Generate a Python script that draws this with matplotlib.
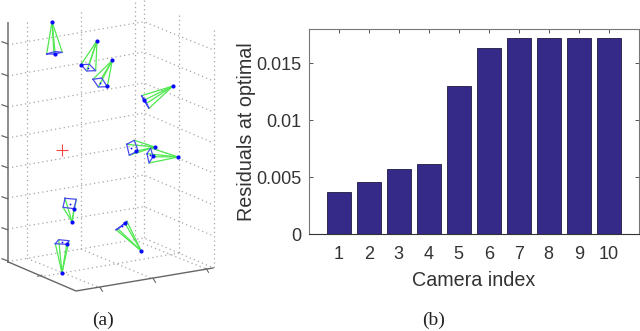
import matplotlib
matplotlib.use("Agg")
import matplotlib.pyplot as plt

W, H = 640, 331
# ---- panel (b) data
camera_index = [1, 2, 3, 4, 5, 6, 7, 8, 9, 10]
residuals = [0.0037, 0.0046, 0.00575, 0.0062, 0.013, 0.0163, 0.0172, 0.0172, 0.0172, 0.0172]
y_ticks = [0, 0.005, 0.01, 0.015]
y_tick_labels = ["0", "0.005", "0.01", "0.015"]

# ---- panel (a) data, read in the picture's projected plane
cam_apex = [(52, 21.7), (97, 40.7), (112.3, 60.3), (173, 86), (154.7, 147),
            (178.3, 157), (72, 221.7), (141, 250.7), (62, 273)]
cam_corners = [
    [(46.7, 54), (54, 54), (62.3, 52.3), (55, 51.5)],
    [(81, 64.7), (89.3, 64.3), (95.7, 70.7), (86.7, 71)],
    [(93, 79.3), (101.7, 78), (107.3, 86.7), (98.3, 87)],
    [(141.7, 95.7), (143.7, 100.3), (149, 108.3), (146.7, 103.3)],
    [(126.7, 144.3), (134.3, 140.3), (138, 150.7), (129.3, 155.3)],
    [(147, 153.7), (150.7, 148), (153, 156.7), (149, 163)],
    [(65, 198.3), (76.3, 199.3), (74, 208.7), (63, 207.3)],
    [(116, 229.7), (118, 229), (127, 221.3), (125, 223.3)],
    [(55.3, 243.7), (58.7, 239.7), (69, 240.7), (66.7, 244.3)],
]
cam_marker = [(55.3, 53.7), (81, 64.7), (107.3, 86.3), (144, 100), (136.3, 150.7),
              (152.7, 156), (73.7, 208.7), (125, 223), (66.7, 244)]
cam_centre = [(54, 53), (88, 68), (100, 83), (145, 101), (131, 148),
              (149.5, 155), (69.7, 203.7), (122, 226), (62, 242)]
target = (62, 150)

left_wall_y = [45, 76, 107, 138, 168, 198, 229, 261.7]
back_wall_y = [21.7, 52, 83, 113, 144, 175, 206.7, 238]
right_wall_y = [50, 81, 112, 143, 173, 205, 236, 268]
wall_x = [(27, 22, 258.4), (80.7, 12, 249), (134.7, 2, 240), (144, 0, 238),
          (179.3, 15, 253), (213.5, 30, 268)]
floor_lines = [((27, 258.4), (101, 288.3)), ((80.7, 249), (154, 279.3)),
               ((134.7, 240), (207, 269.3)), ((179.3, 253), (40.7, 276.7))]
corner_a, corner_b, corner_c = (7.7, 261.7), (76, 291), (213, 268)
z_tick_y = [43, 75, 106, 137, 167, 198, 229, 260]
ab_ticks = [(40.7, 276.7)]
bc_ticks = [(101, 288.3), (154, 279.3), (207, 269.3)]

fig = plt.figure(figsize=(W / 100, H / 100), dpi=100)
fig.patch.set_facecolor("white")

# ---- panel (a)
ax = fig.add_axes([0, 0, 230 / W, 1])
ax.set_xlim(0, 230)
ax.set_ylim(H, 0)
ax.axis("off")
grid = dict(color="#a6a6a6", lw=0.9, ls=(0, (1, 2.5)), zorder=1)
for yl, yb, yr in zip(left_wall_y, back_wall_y, right_wall_y):
    ax.plot([7.7, 144, 213.5], [yl, yb, yr], **grid)
for x, y0, y1 in wall_x:
    ax.plot([x, x], [y0, y1], **grid)
for p, q in floor_lines:
    ax.plot([p[0], q[0]], [p[1], q[1]], **grid)

ax.plot([7.7, 7.7], [22.7, 261.7], color="#8c8c8c", lw=1.4, zorder=2)
ax.plot([corner_a[0], corner_b[0], corner_c[0]], [corner_a[1], corner_b[1], corner_c[1]],
        color="#666666", lw=1.0, zorder=2)
for y in z_tick_y:
    ax.plot([2, 7.7], [y - 1.2, y + 0.8], color="#666666", lw=0.9, zorder=2)
for x, y in ab_ticks:
    ax.plot([x - 3, x + 1], [y - 0.5, y - 1.5], color="#666666", lw=0.8, zorder=2)
for x, y in bc_ticks:
    ax.plot([x - 1, x + 1.5], [y - 1, y + 3], color="#666666", lw=0.8, zorder=2)

for apex, corners, mark, centre in zip(cam_apex, cam_corners, cam_marker, cam_centre):
    for c in corners:
        ax.plot([apex[0], c[0]], [apex[1], c[1]], color="#4fe84f", lw=0.9, zorder=3)
    xs = [c[0] for c in corners] + [corners[0][0]]
    ys = [c[1] for c in corners] + [corners[0][1]]
    ax.plot(xs, ys, color="#4a4af0", lw=0.9, zorder=4)
    ax.plot(*apex, "o", color="#0a0aff", ms=3.0, mew=0, zorder=5)
    ax.plot(*mark, "o", color="#0a0aff", ms=3.0, mew=0, zorder=5)
    ax.plot(*centre, "o", color="#0a0aff", ms=1.3, mew=0, zorder=5)
ax.plot(*target, "+", color="#f04848", ms=9, mew=0.8, zorder=5)
ax.text(103, 320, "(a)", fontsize=14, family="Liberation Serif", color="#222222",
        ha="center", va="center")

# ---- panel (b)
bx = fig.add_axes([308.7 / W, 1 - 234.3 / H, 330 / W, 205.3 / H])
bx.bar(camera_index, residuals, width=0.8, color="#352a87", edgecolor="#1e1a40", linewidth=0.6, zorder=3)
bx.set_xlim(0, 11)
bx.set_ylim(0, 0.018)
bx.set_xticks(camera_index)
bx.set_yticks(y_ticks)
bx.set_yticklabels(y_tick_labels)
bx.tick_params(direction="in", top=True, right=True, length=3, width=0.7, color="#555555",
               labelsize=13, labelcolor="#333333")
bx.tick_params(axis="x", pad=8.5)
bx.tick_params(axis="y", pad=5)
for name, sp in bx.spines.items():
    sp.set_color("#777777")
    sp.set_linewidth(0.8)
bx.spines["bottom"].set_color("#333333")
bx.set_xlabel("Camera index", fontsize=14.2, family="Liberation Sans", color="#333333", labelpad=5.5)
bx.set_ylabel("Residuals at optimal", fontsize=14.2, family="Liberation Sans", color="#333333", labelpad=0.5)
for t in bx.get_xticklabels() + bx.get_yticklabels():
    t.set_family("Liberation Sans")
fig.text(434 / W, 1 - 320 / H, "(b)", fontsize=14, family="Liberation Serif", color="#222222",
         ha="center", va="center")

fig.savefig("out.png", dpi=100)
